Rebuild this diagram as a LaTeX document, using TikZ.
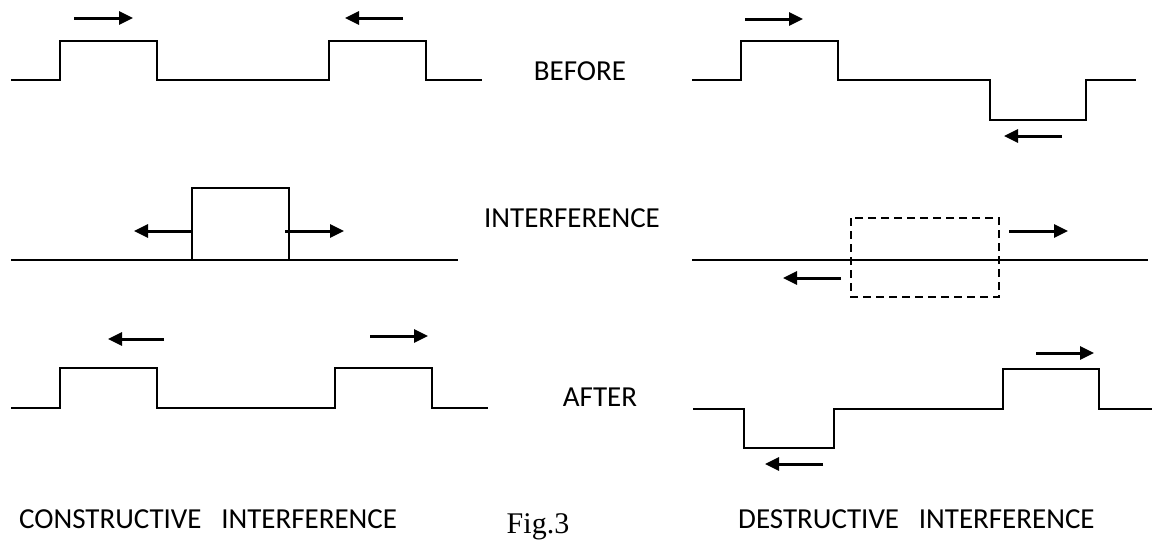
\documentclass[tikz,border=0pt]{standalone}
\usepackage{fontspec}
\setmainfont{Carlito}
\newfontfamily\figfont{Liberation Serif}
\usetikzlibrary{arrows.meta}
\tikzset{
  wave/.style={line width=2pt, line join=miter},
  thinwave/.style={line width=1.2pt},
  move/.style={line width=3pt, -{Triangle[length=14pt,width=13pt]}},
  midlabel/.style={anchor=base, font=\fontsize{29}{30}\selectfont, inner sep=0pt},
  botlabel/.style={anchor=base west, font=\fontsize{29}{30}\selectfont, inner sep=0pt},
  figlabel/.style={anchor=base, font=\figfont\fontsize{30}{31}\selectfont, inner sep=0pt},
  ghost/.style={dashed, line width=1.5pt, dash pattern=on 8pt off 5pt}
}
\begin{document}
\begin{tikzpicture}[x=1pt, y=-1pt]
\useasboundingbox (0,0) rectangle (1152,541);
% ---------- Row 1 (BEFORE) ----------
\draw[wave] (11,80) -- (60,80) -- (60,41) -- (157,41) -- (157,80) -- (329,80) -- (329,41) -- (426,41) -- (426,80) -- (482,80);
\coordinate (a1s) at (74,18); \coordinate (a1e) at (133,18);
\coordinate (a2s) at (403,18); \coordinate (a2e) at (345,18);
\draw[move] (a1s) -- (a1e);
\draw[move] (a2s) -- (a2e);
\draw[wave] (692,80) -- (741,80) -- (741,41) -- (838,41) -- (838,80) -- (990,80) -- (990,120) -- (1086,120) -- (1086,80) -- (1136,80);
\coordinate (b1s) at (745,19); \coordinate (b1e) at (803,19);
\coordinate (b2s) at (1062,136); \coordinate (b2e) at (1004,136);
\draw[move] (b1s) -- (b1e);
\draw[move] (b2s) -- (b2e);
\node[midlabel] (before) at (580,80) {BEFORE};
% ---------- Row 2 (INTERFERENCE) ----------
\draw[thinwave] (11,260) -- (458,260);
\draw[wave] (142,260) -- (192,260) -- (192,188) -- (289,188) -- (289,260) -- (345,260);
\coordinate (c1s) at (192,231); \coordinate (c1e) at (134,231);
\coordinate (c2s) at (285,231); \coordinate (c2e) at (344,231);
\draw[move] (c1s) -- (c1e);
\draw[move] (c2s) -- (c2e);
\draw[thinwave] (692,260) -- (1148,260);
\draw[ghost] (851,218) rectangle (999,297);
\coordinate (d1s) at (1009,231); \coordinate (d1e) at (1068,231);
\coordinate (d2s) at (841,278); \coordinate (d2e) at (783,278);
\draw[move] (d1s) -- (d1e);
\draw[move] (d2s) -- (d2e);
\node[midlabel] (interf) at (572,227) {INTERFERENCE};
% ---------- Row 3 (AFTER) ----------
\draw[wave] (11,408) -- (60,408) -- (60,368) -- (157,368) -- (157,408) -- (335,408) -- (335,368) -- (432,368) -- (432,408) -- (488,408);
\coordinate (e1s) at (164,339); \coordinate (e1e) at (108,339);
\coordinate (e2s) at (370,336); \coordinate (e2e) at (428,336);
\draw[move] (e1s) -- (e1e);
\draw[move] (e2s) -- (e2e);
\draw[wave] (693,409) -- (744,409) -- (744,448) -- (834,448) -- (834,409) -- (1003,409) -- (1003,369) -- (1099,369) -- (1099,409) -- (1152,409);
\coordinate (f1s) at (1036,353); \coordinate (f1e) at (1094,353);
\coordinate (f2s) at (823,464); \coordinate (f2e) at (765,464);
\draw[move] (f1s) -- (f1e);
\draw[move] (f2s) -- (f2e);
\node[midlabel] (after) at (600,406) {AFTER};
% ---------- Captions ----------
\node[botlabel] (cons) at (19,528) {CONSTRUCTIVE\hspace{0.68em}INTERFERENCE};
\node[figlabel] (fig) at (538,533) {Fig.3};
\node[botlabel] (dest) at (738,528) {DESTRUCTIVE\hspace{0.68em}INTERFERENCE};
\end{tikzpicture}
\end{document}
